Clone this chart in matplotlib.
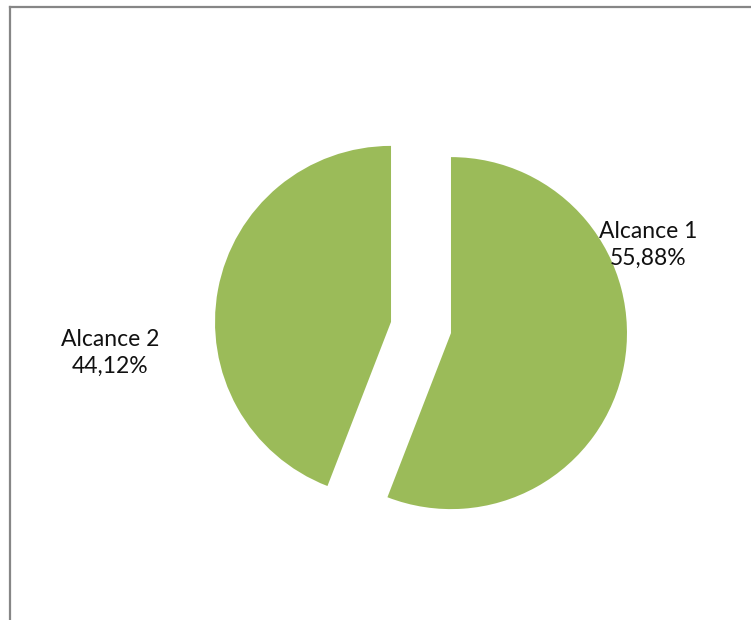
import matplotlib.pyplot as plt
from matplotlib.lines import Line2D

categories = ["Alcance 1", "Alcance 2"]
shares = [55.88, 44.12]

W, H = 751, 620
green = "#9BBB59"


def main():
    fig = plt.figure(figsize=(W / 100, H / 100), dpi=100)
    ax = fig.add_axes([0, 0, 1, 1])

    r = 176
    ax.pie(shares, startangle=90, counterclock=False, radius=r,
           center=(421, H - 327.5), explode=[30.5, 30.5],
           colors=[green, green], wedgeprops=dict(linewidth=0),
           frame=True)
    ax.set_xlim(0, W)
    ax.set_ylim(0, H)
    ax.axis("off")

    labels = ["{}\n{}%".format(c, ("%.2f" % v).replace(".", ","))
              for c, v in zip(categories, shares)]
    label_pos = [(648, H - 245), (110, H - 353)]
    for txt, (x, y) in zip(labels, label_pos):
        ax.text(x, y, txt, ha="center", va="center", fontsize=16.5,
                family="Lato", linespacing=1.38, color="#111111")

    # chart area border (top and left edges)
    fig.add_artist(Line2D([9.5 / W, 1], [1 - 7 / H, 1 - 7 / H],
                          color="#868686", lw=1.6))
    fig.add_artist(Line2D([10 / W, 10 / W], [0, 1 - 7 / H],
                          color="#868686", lw=1.6))

    fig.savefig("out.png", dpi=100)


if __name__ == "__main__":
    main()
